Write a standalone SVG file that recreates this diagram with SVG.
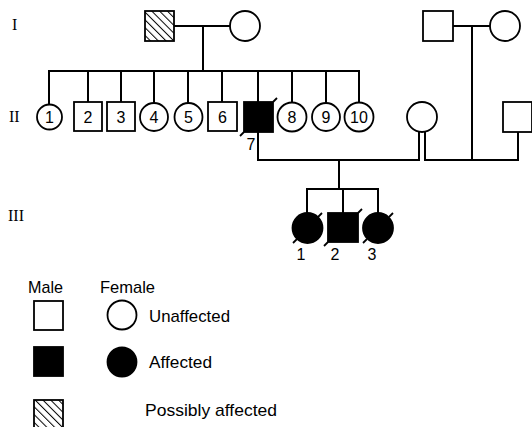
<svg xmlns="http://www.w3.org/2000/svg" width="532" height="427" viewBox="0 0 532 427">
<style>
.ln{stroke:#000;stroke-width:2;fill:none;stroke-linecap:square}
.sh{stroke:#000;stroke-width:1.8;fill:#fff}
.af{stroke:#000;stroke-width:1.8;fill:#000}
.ha{stroke:#000;stroke-width:1.8;fill:url(#hatch)}
.tk{stroke:#000;stroke-width:1.8}
.num{font-family:"Liberation Sans",Arial,sans-serif;font-size:16px;text-anchor:middle;fill:#000}
.rom{font-family:"Liberation Serif","Times New Roman",serif;font-size:16px;fill:#000}
.lg{font-family:"Liberation Sans",Arial,sans-serif;font-size:17px;fill:#000}
</style>
<defs>
<pattern id="hatch" patternUnits="userSpaceOnUse" width="5.5" height="5.5" patternTransform="rotate(-45)">
<rect width="5.5" height="5.5" fill="#fff"/>
<line x1="0" y1="0" x2="0" y2="5.5" stroke="#000" stroke-width="2"/>
</pattern>
</defs>
<rect width="532" height="427" fill="#fff"/>

<g id="gen-labels">
<text class="rom" x="12" y="30">I</text>
<text class="rom" x="9" y="122">II</text>
<text class="rom" x="8" y="221">III</text>
</g>

<g id="connectors">
<line class="ln" x1="174" y1="26" x2="230" y2="26"/>
<line class="ln" x1="203" y1="26" x2="203" y2="71"/>
<line class="ln" x1="49" y1="71" x2="359" y2="71"/>
<line class="ln" x1="49" y1="71" x2="49" y2="104"/>
<line class="ln" x1="88" y1="71" x2="88" y2="102"/>
<line class="ln" x1="121" y1="71" x2="121" y2="102"/>
<line class="ln" x1="154" y1="71" x2="154" y2="103"/>
<line class="ln" x1="188" y1="71" x2="188" y2="103"/>
<line class="ln" x1="222" y1="71" x2="222" y2="102"/>
<line class="ln" x1="258" y1="71" x2="258" y2="102"/>
<line class="ln" x1="292" y1="71" x2="292" y2="103"/>
<line class="ln" x1="326" y1="71" x2="326" y2="103"/>
<line class="ln" x1="359" y1="71" x2="359" y2="103"/>
<line class="ln" x1="453" y1="26" x2="490" y2="26"/>
<line class="ln" x1="472" y1="26" x2="472" y2="160"/>
<line class="ln" x1="258" y1="132" x2="258" y2="160"/>
<line class="ln" x1="258" y1="160" x2="419" y2="160"/>
<line class="ln" x1="419" y1="131" x2="419" y2="160"/>
<line class="ln" x1="425" y1="131" x2="425" y2="160"/>
<line class="ln" x1="425" y1="160" x2="518" y2="160"/>
<line class="ln" x1="518" y1="132" x2="518" y2="160"/>
<line class="ln" x1="339" y1="160" x2="339" y2="189"/>
<line class="ln" x1="307" y1="189" x2="378" y2="189"/>
<line class="ln" x1="307" y1="189" x2="307" y2="213"/>
<line class="ln" x1="343" y1="189" x2="343" y2="213"/>
<line class="ln" x1="378" y1="189" x2="378" y2="213"/>
</g>

<g id="I-1"><rect class="ha" x="145" y="11" width="29" height="30"/></g>
<g id="I-2"><circle class="sh" cx="245" cy="26" r="15"/></g>
<g id="I-3"><rect class="sh" x="423" y="11" width="30" height="30"/></g>
<g id="I-4"><circle class="sh" cx="505" cy="26" r="15"/></g>

<g id="II-1"><circle class="sh" cx="49.5" cy="117" r="12.5"/><text class="num" x="49.5" y="123">1</text></g>
<g id="II-2"><rect class="sh" x="74" y="102" width="28" height="29"/><text class="num" x="88" y="123">2</text></g>
<g id="II-3"><rect class="sh" x="107" y="102" width="28" height="29"/><text class="num" x="121" y="123">3</text></g>
<g id="II-4"><circle class="sh" cx="154" cy="117" r="14"/><text class="num" x="154" y="123">4</text></g>
<g id="II-5"><circle class="sh" cx="188.5" cy="117" r="14"/><text class="num" x="188.5" y="123">5</text></g>
<g id="II-6"><rect class="sh" x="208" y="102" width="29" height="29"/><text class="num" x="222.5" y="123">6</text></g>
<g id="II-7"><rect class="af" x="244" y="102" width="29" height="30"/>
<line class="tk" x1="273" y1="102" x2="277" y2="98"/>
<line class="tk" x1="244" y1="132" x2="240" y2="136"/>
<text class="num" x="251" y="150">7</text></g>
<g id="II-8"><circle class="sh" cx="292" cy="117" r="14.5"/><text class="num" x="292" y="123">8</text></g>
<g id="II-9"><circle class="sh" cx="326" cy="117" r="14"/><text class="num" x="326" y="123">9</text></g>
<g id="II-10"><circle class="sh" cx="359" cy="117" r="14.5"/><text class="num" x="359" y="123">10</text></g>
<g id="II-11"><circle class="sh" cx="422" cy="117" r="15"/></g>
<g id="II-12"><rect class="sh" x="503" y="102" width="29" height="30"/></g>

<g id="III-1"><circle class="af" cx="307.5" cy="228" r="15"/>
<line class="tk" x1="318" y1="217" x2="322" y2="213"/>
<line class="tk" x1="297" y1="239" x2="293" y2="243"/>
<text class="num" x="301" y="260">1</text></g>
<g id="III-2"><rect class="af" x="328" y="213" width="30" height="29"/>
<line class="tk" x1="358" y1="213" x2="362" y2="209"/>
<line class="tk" x1="328" y1="242" x2="324" y2="246"/>
<text class="num" x="335" y="260">2</text></g>
<g id="III-3"><circle class="af" cx="378" cy="228" r="15"/>
<line class="tk" x1="389" y1="217" x2="393" y2="213"/>
<line class="tk" x1="367" y1="239" x2="363" y2="243"/>
<text class="num" x="372" y="260">3</text></g>

<g id="legend">
<text class="lg" x="28" y="293" textLength="35" lengthAdjust="spacingAndGlyphs">Male</text>
<text class="lg" x="100" y="293" textLength="55" lengthAdjust="spacingAndGlyphs">Female</text>
<rect class="sh" x="34" y="301" width="29" height="29"/>
<circle class="sh" cx="122" cy="315" r="14.5"/>
<text class="lg" x="149" y="322" textLength="81" lengthAdjust="spacingAndGlyphs">Unaffected</text>
<rect class="af" x="34" y="347" width="29" height="29"/>
<circle class="af" cx="122" cy="362" r="14.5"/>
<text class="lg" x="149" y="368" textLength="63" lengthAdjust="spacingAndGlyphs">Affected</text>
<rect class="ha" x="34" y="400" width="29" height="28"/>
<text class="lg" x="145" y="416" textLength="132" lengthAdjust="spacingAndGlyphs">Possibly affected</text>
</g>
</svg>
